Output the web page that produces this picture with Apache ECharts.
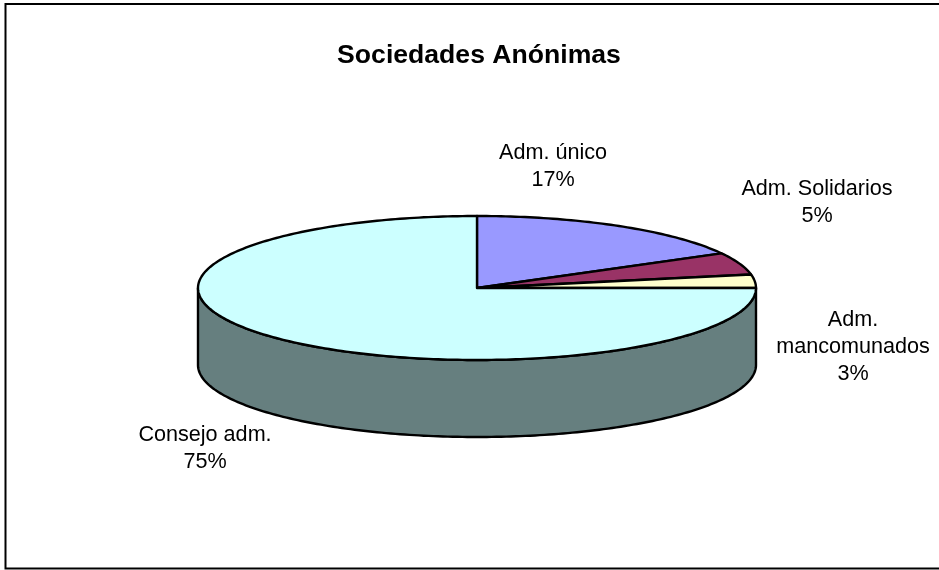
<!DOCTYPE html>
<html>
<head>
<meta charset="utf-8">
<title>Sociedades Anónimas</title>
<script src="https://cdn.jsdelivr.net/npm/echarts@6/dist/echarts.min.js"></script>
<style>
  html, body { margin: 0; padding: 0; background: #fff; }
  #chart { width: 939px; height: 570px; }
</style>
</head>
<body>
<div id="chart"></div>
<script>
const categories = ['Adm. único', 'Adm. Solidarios', 'Adm.\nmancomunados', 'Consejo adm.'];
const values = [17, 5, 3, 75];
const colors = ['#9999ff', '#993366', '#ffffcc', '#ccffff'];
const sideColors = ['#4c4c7f', '#4c1933', '#7f7f66', '#667f7f'];

// pie geometry, the disc is an ellipse with a wall below it
const cx = 477, cy = 288, rx = 279, ry = 72, depth = 77;
// label centers, by slice
const labelX = [553, 817, 853, 205];
const labelY = [167, 203, 347, 449];
const font = 'Liberation Sans, Arial, sans-serif';

const total = values.reduce((a, b) => a + b, 0);

function rimPoint(deg, dy) {
  const a = deg * Math.PI / 180;
  return [cx + rx * Math.sin(a), cy - ry * Math.cos(a) + (dy || 0)];
}

function arcPoints(from, to, dy) {
  const pts = [];
  const n = Math.max(2, Math.ceil(Math.abs(to - from)));
  for (let i = 0; i <= n; i++) pts.push(rimPoint(from + (to - from) * i / n, dy));
  return pts;
}

function renderSlice(params, api) {
  const i = params.dataIndex;
  let start = 0;
  for (let k = 0; k < i; k++) start += values[k];
  const from = start / total * 360;
  const to = (start + api.value(0)) / total * 360;
  const lineStyle = { stroke: '#000', lineWidth: 2.4, lineJoin: 'round' };
  const children = [];

  // only the front half of the rim has a visible wall
  const wallFrom = Math.max(from, 90), wallTo = Math.min(to, 270);
  if (wallTo > wallFrom) {
    children.push({
      type: 'polygon',
      shape: { points: arcPoints(wallFrom, wallTo, 0).concat(arcPoints(wallTo, wallFrom, depth)) },
      style: Object.assign({ fill: sideColors[i] }, lineStyle)
    });
  }
  children.push({
    type: 'polygon',
    shape: { points: [[cx, cy]].concat(arcPoints(from, to, 0)) },
    style: Object.assign({ fill: colors[i] }, lineStyle)
  });
  children.push({
    type: 'text',
    style: {
      x: labelX[i],
      y: labelY[i],
      text: categories[i] + '\n' + api.value(0) + '%',
      fill: '#000',
      font: '21.6px ' + font,
      lineHeight: 27,
      align: 'center',
      verticalAlign: 'middle'
    }
  });
  return { type: 'group', children: children };
}

const chart = echarts.init(document.getElementById('chart'), null, { renderer: 'canvas' });
chart.setOption({
  animation: false,
  backgroundColor: '#fff',
  title: {
    text: 'Sociedades Anónimas',
    left: 474,
    top: 37,
    textAlign: 'center',
    textStyle: { fontFamily: font, fontSize: 26.6, fontWeight: 'bold', color: '#000' }
  },
  graphic: [{
    type: 'rect',
    silent: true,
    z: -1,
    // the right side of the frame is cut off by the picture
    shape: { x: 5.5, y: 4, width: 960, height: 564.5 },
    style: { fill: 'none', stroke: '#000', lineWidth: 2 }
  }],
  series: [{
    type: 'custom',
    coordinateSystem: 'none',
    renderItem: renderSlice,
    data: values.map(v => [v])
  }]
});
</script>
</body>
</html>
